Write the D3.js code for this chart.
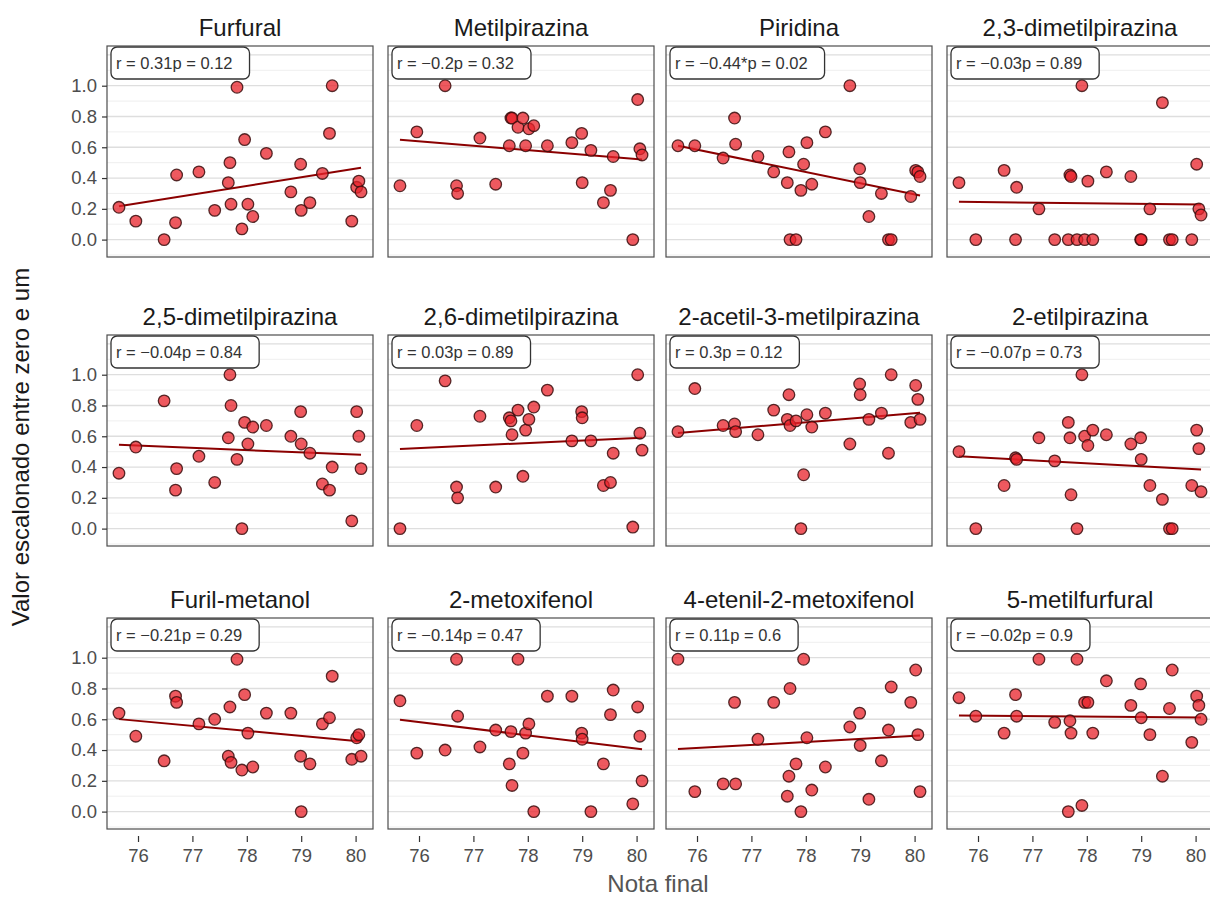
<!DOCTYPE html>
<html>
<head>
<meta charset="utf-8">
<script src="https://cdn.jsdelivr.net/npm/d3@7"></script>
<style>
  body { margin: 0; background: #fff; }
  text { font-family: "Liberation Sans", Arial, sans-serif; }
</style>
</head>
<body>
<div id="chart"></div>
<script>
// painel names, in reading order
const compostos = [
  "Furfural", "Metilpirazina", "Piridina", "2,3-dimetilpirazina",
  "2,5-dimetilpirazina", "2,6-dimetilpirazina", "2-acetil-3-metilpirazina", "2-etilpirazina",
  "Furil-metanol", "2-metoxifenol", "4-etenil-2-metoxifenol", "5-metilfurfural"
];

const rotulosCor = [
  "r = 0.31p = 0.12", "r = \u22120.2p = 0.32", "r = \u22120.44*p = 0.02", "r = \u22120.03p = 0.89",
  "r = \u22120.04p = 0.84", "r = 0.03p = 0.89", "r = 0.3p = 0.12", "r = \u22120.07p = 0.73",
  "r = \u22120.21p = 0.29", "r = \u22120.14p = 0.47", "r = 0.11p = 0.6", "r = \u22120.02p = 0.9"
];

// x of every sample (same for all panels)
const notaFinal = [75.65, 75.96, 76.48, 76.69, 76.71, 77.12, 77.41, 77.66, 77.69, 77.71,
  77.82, 77.91, 77.96, 78.02, 78.11, 78.36, 78.81, 78.99, 79.00, 79.16,
  79.39, 79.52, 79.57, 79.93, 80.02, 80.06, 80.10];

const yFurfural = [0.21, 0.12, 0.0, 0.11, 0.42, 0.44, 0.19, 0.37, 0.50, 0.23, 0.99, 0.07, 0.65, 0.23,
  0.15, 0.56, 0.31, 0.49, 0.19, 0.24, 0.43, 0.69, 1.0, 0.12, 0.34, 0.38, 0.31];
const yMetilpirazina = [0.35, 0.70, 1.0, 0.35, 0.30, 0.66, 0.36, 0.61, 0.79, 0.79, 0.73, 0.79, 0.61, 0.72,
  0.74, 0.61, 0.63, 0.69, 0.37, 0.58, 0.24, 0.32, 0.54, 0.0, 0.91, 0.59, 0.55];
const yPiridina = [0.61, 0.61, 0.53, 0.79, 0.62, 0.54, 0.44, 0.37, 0.57, 0.0, 0.0, 0.32, 0.49, 0.63,
  0.36, 0.70, 1.0, 0.46, 0.37, 0.15, 0.30, 0.0, 0.0, 0.28, 0.45, 0.44, 0.41];
const y23dimetil = [0.37, 0.0, 0.45, 0.0, 0.34, 0.20, 0.0, 0.0, 0.42, 0.41, 0.0, 1.0, 0.0, 0.38,
  0.0, 0.44, 0.41, 0.0, 0.0, 0.20, 0.89, 0.0, 0.0, 0.0, 0.49, 0.20, 0.16];
const y25dimetil = [0.36, 0.53, 0.83, 0.25, 0.39, 0.47, 0.30, 0.59, 1.0, 0.80, 0.45, 0.0, 0.69, 0.55,
  0.66, 0.67, 0.60, 0.76, 0.55, 0.49, 0.29, 0.25, 0.40, 0.05, 0.76, 0.60, 0.39];
const y26dimetil = [0.0, 0.67, 0.96, 0.27, 0.20, 0.73, 0.27, 0.72, 0.70, 0.61, 0.77, 0.34, 0.64, 0.71,
  0.79, 0.90, 0.57, 0.76, 0.72, 0.57, 0.28, 0.30, 0.49, 0.01, 1.0, 0.62, 0.51];
const yAcetil = [0.63, 0.91, 0.67, 0.68, 0.63, 0.61, 0.77, 0.71, 0.87, 0.67, 0.70, 0.0, 0.35, 0.74,
  0.66, 0.75, 0.55, 0.94, 0.87, 0.71, 0.75, 0.49, 1.0, 0.69, 0.93, 0.84, 0.71];
const yEtil = [0.50, 0.0, 0.28, 0.46, 0.45, 0.59, 0.44, 0.69, 0.59, 0.22, 0.0, 1.0, 0.60, 0.54,
  0.64, 0.61, 0.55, 0.59, 0.45, 0.28, 0.19, 0.0, 0.0, 0.28, 0.64, 0.52, 0.24];
const yFurilMetanol = [0.64, 0.49, 0.33, 0.75, 0.71, 0.57, 0.60, 0.36, 0.68, 0.32, 0.99, 0.27, 0.76, 0.51,
  0.29, 0.64, 0.64, 0.36, 0.0, 0.31, 0.57, 0.61, 0.88, 0.34, 0.48, 0.50, 0.36];
const yMetoxifenol = [0.72, 0.38, 0.40, 0.99, 0.62, 0.42, 0.53, 0.31, 0.52, 0.17, 0.99, 0.38, 0.51, 0.57,
  0.0, 0.75, 0.75, 0.51, 0.47, 0.0, 0.31, 0.63, 0.79, 0.05, 0.68, 0.49, 0.20];
const yEtenil = [0.99, 0.13, 0.18, 0.71, 0.18, 0.47, 0.71, 0.10, 0.23, 0.80, 0.31, 0.0, 0.99, 0.48,
  0.14, 0.29, 0.55, 0.64, 0.43, 0.08, 0.33, 0.53, 0.81, 0.71, 0.92, 0.50, 0.13];
const yMetilfurfural = [0.74, 0.62, 0.51, 0.76, 0.62, 0.99, 0.58, 0.0, 0.59, 0.51, 0.99, 0.04, 0.71, 0.71,
  0.51, 0.85, 0.69, 0.83, 0.61, 0.50, 0.23, 0.67, 0.92, 0.45, 0.75, 0.69, 0.60];

const valores = [yFurfural, yMetilpirazina, yPiridina, y23dimetil, y25dimetil, y26dimetil,
  yAcetil, yEtil, yFurilMetanol, yMetoxifenol, yEtenil, yMetilfurfural];

const xTicks = [76, 77, 78, 79, 80];
const yTicks = [0, 0.2, 0.4, 0.6, 0.8, 1.0];
const yGrid = d3.range(-0.1, 1.25, 0.1);

const width = 1210, height = 899;
const colLeft = [107, 388, 666, 947];
const rowTop = [46, 335, 618];
const panelW = 266, panelH = 211;

const svg = d3.select("#chart")
  .append("svg")
  .attr("width", width)
  .attr("height", height);

const x = d3.scaleLinear().domain([75.43, 80.32]).range([0, panelW]);
const y = d3.scaleLinear().domain([-0.113, 1.258]).range([panelH, 0]);

function fitLine(xs, ys) {
  const mx = d3.mean(xs), my = d3.mean(ys);
  let sxy = 0, sxx = 0;
  xs.forEach((v, i) => { sxy += (v - mx) * (ys[i] - my); sxx += (v - mx) * (v - mx); });
  const b = sxy / sxx;
  return v => my + b * (v - mx);
}

compostos.forEach((nome, idx) => {
  const col = idx % 4, row = Math.floor(idx / 4);
  const g = svg.append("g")
    .attr("transform", `translate(${colLeft[col]},${rowTop[row]})`);

  const clipId = "clip" + idx;
  g.append("clipPath").attr("id", clipId)
    .append("rect").attr("width", panelW).attr("height", panelH);

  const inner = g.append("g").attr("clip-path", `url(#${clipId})`);

  inner.selectAll(".grid")
    .data(yGrid)
    .enter()
    .append("line")
    .attr("x1", 0).attr("x2", panelW)
    .attr("y1", d => y(d)).attr("y2", d => y(d))
    .attr("stroke", (d, i) => i % 2 === 1 ? "#dedede" : "#ebebeb")
    .attr("stroke-width", (d, i) => i % 2 === 1 ? 1.3 : 0.8);

  const ys = valores[idx];
  const pred = fitLine(notaFinal, ys);
  const x0 = d3.min(notaFinal), x1 = d3.max(notaFinal);

  inner.append("line")
    .attr("x1", x(x0)).attr("y1", y(pred(x0)))
    .attr("x2", x(x1)).attr("y2", y(pred(x1)))
    .attr("stroke", "#8b0000")
    .attr("stroke-width", 2);

  inner.selectAll("circle")
    .data(ys)
    .enter()
    .append("circle")
    .attr("cx", (d, i) => x(notaFinal[i]))
    .attr("cy", d => y(d))
    .attr("r", 5.8)
    .attr("fill", "#e8222a")
    .attr("fill-opacity", 0.75)
    .attr("stroke", "#3a0e0e")
    .attr("stroke-opacity", 0.85)
    .attr("stroke-width", 1.3);

  // label r / p
  const lab = g.append("g").attr("transform", "translate(4,1)");
  const txt = lab.append("text")
    .attr("x", 5).attr("y", 22)
    .attr("font-size", 16.5)
    .attr("fill", "#333")
    .text(rotulosCor[idx]);
  const tw = txt.node().getComputedTextLength();
  lab.insert("rect", "text")
    .attr("width", tw + 22).attr("height", 32)
    .attr("rx", 6).attr("ry", 6)
    .attr("fill", "#fff")
    .attr("stroke", "#333")
    .attr("stroke-width", 1.3);

  g.append("rect")
    .attr("width", panelW).attr("height", panelH)
    .attr("fill", "none")
    .attr("stroke", "#4d4d4d")
    .attr("stroke-width", 1.2);

  // strip title
  g.append("text")
    .attr("x", panelW / 2).attr("y", -10)
    .attr("text-anchor", "middle")
    .attr("font-size", 24)
    .attr("fill", "#1a1a1a")
    .text(nome);

  if (col === 0) {
    const ax = g.append("g")
      .call(d3.axisLeft(y).tickValues(yTicks).tickFormat(d3.format(".1f")).tickSize(5).tickPadding(5));
    ax.select(".domain").remove();
    ax.selectAll("line").attr("stroke", "#333").attr("stroke-width", 1.2);
    ax.selectAll("text").attr("font-size", 18.5).attr("fill", "#4d4d4d")
      .attr("font-family", "Liberation Sans, Arial, sans-serif");
  }
  if (row === 2) {
    const ax = g.append("g")
      .attr("transform", `translate(0,${panelH + 7})`)
      .call(d3.axisBottom(x).tickValues(xTicks).tickFormat(d3.format("d")).tickSize(6).tickPadding(7));
    ax.select(".domain").remove();
    ax.selectAll("line").attr("stroke", "#333").attr("stroke-width", 1.2);
    ax.selectAll("text").attr("font-size", 18.5).attr("fill", "#4d4d4d")
      .attr("font-family", "Liberation Sans, Arial, sans-serif");
  }
});

svg.append("text")
  .attr("x", 658).attr("y", 892)
  .attr("text-anchor", "middle")
  .attr("font-size", 24)
  .attr("fill", "#555")
  .text("Nota final");

svg.append("text")
  .attr("transform", "translate(29,447) rotate(-90)")
  .attr("text-anchor", "middle")
  .attr("font-size", 24)
  .attr("fill", "#1a1a1a")
  .text("Valor escalonado entre zero e um");
</script>
</body>
</html>
